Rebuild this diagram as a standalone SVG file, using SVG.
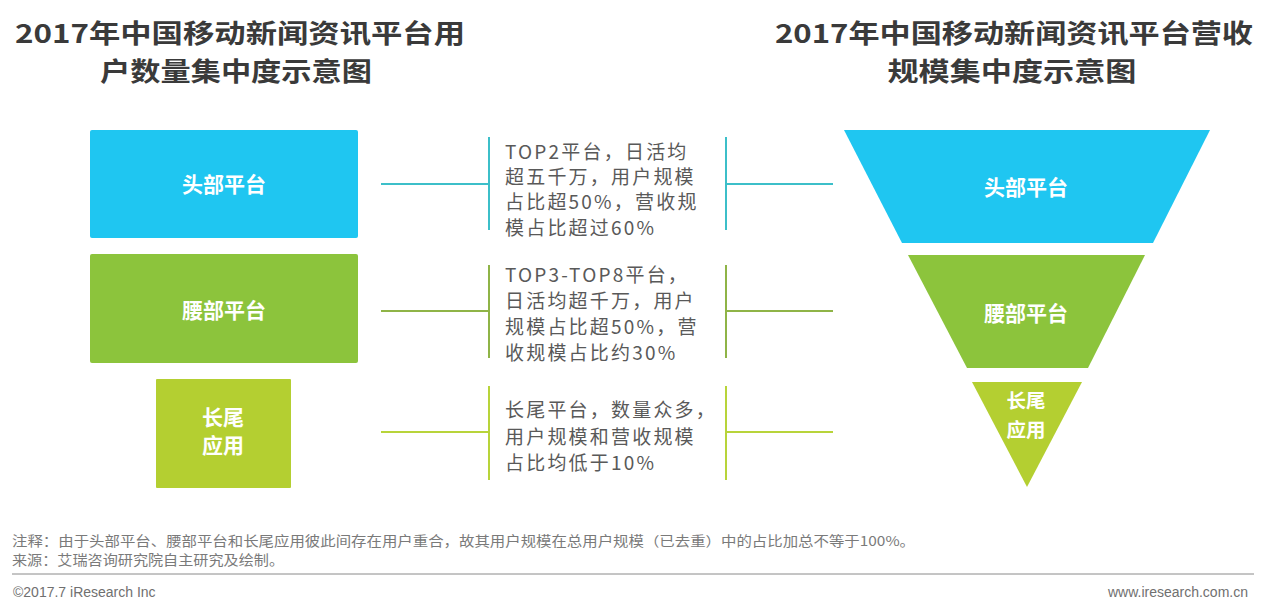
<svg xmlns="http://www.w3.org/2000/svg" width="1274" height="615" viewBox="0 0 1274 615">
<style>
.title{font-family:"Noto Sans CJK SC","Noto Sans",sans-serif;font-weight:bold;font-size:26px;fill:#3a3a3a;text-anchor:middle}
.lbl{font-family:"Noto Sans CJK SC","Noto Sans",sans-serif;font-weight:bold;font-size:21px;fill:#ffffff;text-anchor:middle}
.lbs{font-family:"Noto Sans CJK SC","Noto Sans",sans-serif;font-weight:bold;font-size:19.5px;fill:#ffffff;text-anchor:middle}
.desc{font-family:"Noto Sans CJK SC","Noto Sans",sans-serif;font-size:19px;letter-spacing:2.2px;fill:#595959}
.note{font-family:"Noto Sans CJK SC","Noto Sans",sans-serif;font-size:13.5px;fill:#7a7a7a}
.foot{font-family:"Liberation Sans","Noto Sans",sans-serif;font-size:14px;fill:#707070}
.c1{stroke:#3cbfc9;stroke-width:2;fill:none}
.c2{stroke:#8fb447;stroke-width:2;fill:none}
.c3{stroke:#b8d43a;stroke-width:2;fill:none}
</style>
<rect width="1274" height="615" fill="#ffffff"/>
<g id="titles">
<text class="title" x="240" y="43" textLength="450" lengthAdjust="spacingAndGlyphs">2017年中国移动新闻资讯平台用</text>
<text class="title" x="236" y="81" textLength="272" lengthAdjust="spacingAndGlyphs">户数量集中度示意图</text>
<text class="title" x="1014" y="43" textLength="478" lengthAdjust="spacingAndGlyphs">2017年中国移动新闻资讯平台营收</text>
<text class="title" x="1012" y="81" textLength="249" lengthAdjust="spacingAndGlyphs">规模集中度示意图</text>
</g>
<g id="box-head">
<rect x="90" y="130" width="268" height="108" rx="2" fill="#1fc6f1"/>
<text class="lbl" x="224" y="192">头部平台</text>
</g>
<g id="box-waist">
<rect x="90" y="254" width="268" height="109" rx="2" fill="#8cc43c"/>
<text class="lbl" x="224" y="318">腰部平台</text>
</g>
<g id="box-tail">
<rect x="156" y="379" width="135" height="109" rx="1" fill="#b4cf31"/>
<text class="lbl" x="223" y="425">长尾</text>
<text class="lbl" x="223" y="453">应用</text>
</g>
<g id="connectors">
<line class="c1" x1="381" y1="184" x2="489" y2="184"/>
<line class="c1" x1="489" y1="137" x2="489" y2="230"/>
<line class="c1" x1="726" y1="137" x2="726" y2="230"/>
<line class="c1" x1="726" y1="184" x2="833" y2="184"/>
<line class="c2" x1="381" y1="311" x2="489" y2="311"/>
<line class="c2" x1="489" y1="265" x2="489" y2="358"/>
<line class="c2" x1="726" y1="265" x2="726" y2="358"/>
<line class="c2" x1="726" y1="311" x2="833" y2="311"/>
<line class="c3" x1="381" y1="432" x2="489" y2="432"/>
<line class="c3" x1="489" y1="386" x2="489" y2="480"/>
<line class="c3" x1="726" y1="386" x2="726" y2="480"/>
<line class="c3" x1="726" y1="432" x2="833" y2="432"/>
</g>
<g id="desc-head">
<text class="desc" x="505" y="159">TOP2平台，日活均</text>
<text class="desc" x="505" y="184">超五千万，用户规模</text>
<text class="desc" x="505" y="209">占比超50%，营收规</text>
<text class="desc" x="505" y="235">模占比超过60%</text>
</g>
<g id="desc-waist">
<text class="desc" x="505" y="282">TOP3-TOP8平台，</text>
<text class="desc" x="505" y="308">日活均超千万，用户</text>
<text class="desc" x="505" y="334">规模占比超50%，营</text>
<text class="desc" x="505" y="360">收规模占比约30%</text>
</g>
<g id="desc-tail">
<text class="desc" x="505" y="417">长尾平台，数量众多，</text>
<text class="desc" x="505" y="444">用户规模和营收规模</text>
<text class="desc" x="505" y="470">占比均低于10%</text>
</g>
<g id="funnel-head">
<polygon points="844,130 1210,130 1153,243 902,243" fill="#1fc6f1"/>
<text class="lbl" x="1026" y="195">头部平台</text>
</g>
<g id="funnel-waist">
<polygon points="908,255 1145,255 1088,368 967,368" fill="#8cc43c"/>
<text class="lbl" x="1026" y="321">腰部平台</text>
</g>
<g id="funnel-tail">
<polygon points="972,382 1082,382 1027,487" fill="#b4cf31"/>
<text class="lbs" x="1026" y="408">长尾</text>
<text class="lbs" x="1026" y="437">应用</text>
</g>
<g id="footer">
<text class="note" x="12" y="546" textLength="903" lengthAdjust="spacingAndGlyphs">注释：由于头部平台、腰部平台和长尾应用彼此间存在用户重合，故其用户规模在总用户规模（已去重）中的占比加总不等于100%。</text>
<text class="note" x="12" y="565" textLength="272" lengthAdjust="spacingAndGlyphs">来源：艾瑞咨询研究院自主研究及绘制。</text>
<line x1="12" y1="574" x2="1254" y2="574" stroke="#8a8a8a" stroke-width="1"/>
<text class="foot" x="13" y="597">©2017.7 iResearch Inc</text>
<text class="foot" x="1248" y="597" text-anchor="end">www.iresearch.com.cn</text>
</g>
</svg>
